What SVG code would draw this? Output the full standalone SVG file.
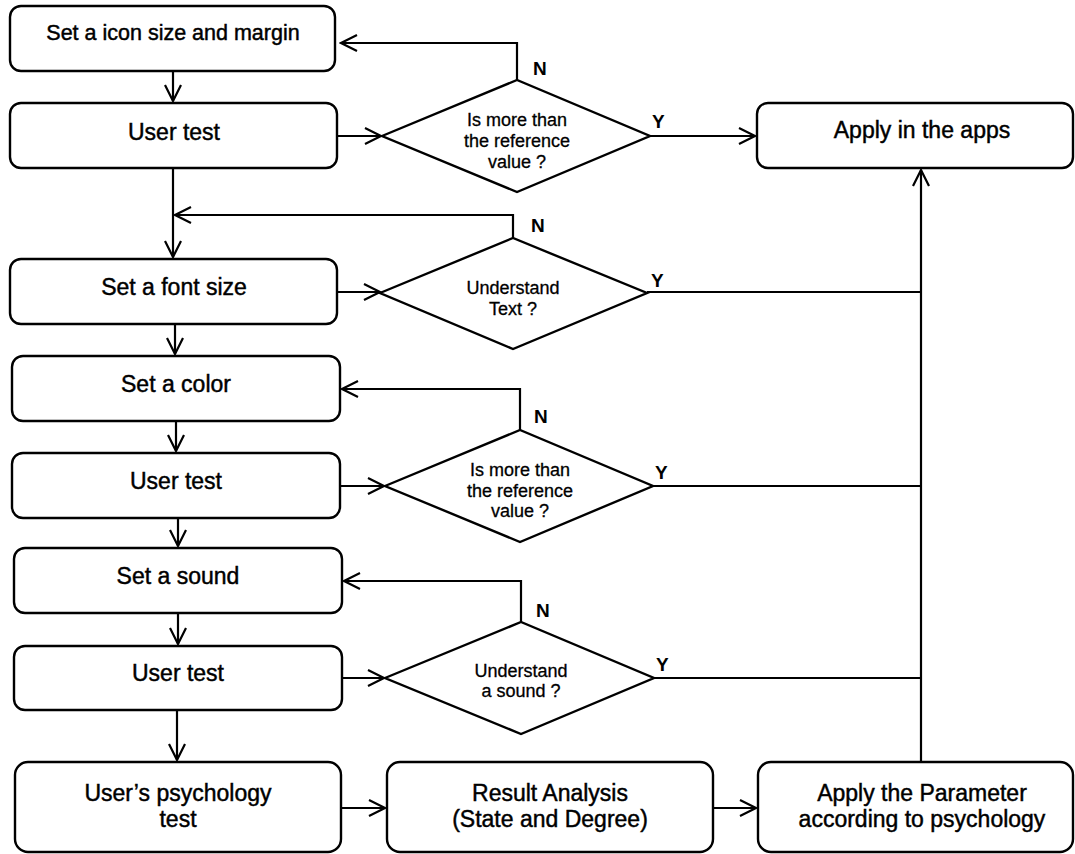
<svg xmlns="http://www.w3.org/2000/svg" width="1075" height="854" viewBox="0 0 1075 854">
<defs>
<marker id="arr" markerUnits="userSpaceOnUse" markerWidth="20" markerHeight="20" viewBox="0 0 20 20" refX="18" refY="10" orient="auto">
<path d="M2,2 L18,10 L2,18" fill="none" stroke="#000" stroke-width="2.2"/>
</marker>
<style>
.box{fill:#fff;stroke:#000;stroke-width:2.4}
.dia{fill:#fff;stroke:#000;stroke-width:2.4}
.t{font-family:"Liberation Sans",Arial,sans-serif;font-size:23px;fill:#000;stroke:#000;stroke-width:0.45;text-anchor:middle}
.d{font-family:"Liberation Sans",Arial,sans-serif;font-size:18px;fill:#000;stroke:#000;stroke-width:0.3;text-anchor:middle}
.l{font-family:"Liberation Sans",Arial,sans-serif;font-size:19px;font-weight:bold;fill:#000}
.c{fill:none;stroke:#000;stroke-width:2.2}
.ca{fill:none;stroke:#000;stroke-width:2.2;marker-end:url(#arr)}
</style>
</defs>
<g id="connectors">
<path class="ca" d="M173,71 V101"/>
<path class="ca" d="M337,136 H381"/>
<path class="ca" d="M650,136 H755"/>
<path class="ca" d="M517,80 V43 H341"/>
<path class="ca" d="M173,168 V257"/>
<path class="ca" d="M513,238 V215 H175"/>
<path class="ca" d="M337,292 H380"/>
<path class="c" d="M647,292 H921"/>
<path class="ca" d="M175,324 V354"/>
<path class="ca" d="M176,421 V451"/>
<path class="ca" d="M340,486 H384"/>
<path class="c" d="M653,486 H921"/>
<path class="ca" d="M520,430 V389 H342"/>
<path class="ca" d="M178,518 V546"/>
<path class="ca" d="M178,613 V644"/>
<path class="ca" d="M342,678 H384"/>
<path class="c" d="M654,678 H921"/>
<path class="ca" d="M521,622 V581 H344"/>
<path class="ca" d="M177,710 V760"/>
<path class="ca" d="M341,808 H385"/>
<path class="ca" d="M713,808 H756"/>
<path class="ca" d="M921,762 V170"/>
</g>
<g id="n-icon"><rect class="box" x="10" y="6" width="325" height="65" rx="11"/><text class="t" x="173" y="40" style="font-size:21.5px">Set a icon size and margin</text></g>
<g id="n-test1"><rect class="box" x="10" y="103" width="327" height="65" rx="11"/><text class="t" x="174" y="140">User test</text></g>
<g id="n-dec1"><polygon class="dia" points="382,136 517,80 650,136 517,192"/><text class="d" x="517" y="126">Is more than</text><text class="d" x="517" y="147">the reference</text><text class="d" x="517" y="168">value ?</text></g>
<g id="n-apply"><rect class="box" x="757" y="103" width="316" height="65" rx="11"/><text class="t" x="922" y="138">Apply in the apps</text></g>
<g id="n-font"><rect class="box" x="10" y="259" width="327" height="65" rx="11"/><text class="t" x="174" y="295">Set a font size</text></g>
<g id="n-dec2"><polygon class="dia" points="380,293 513,238 647,293 513,349"/><text class="d" x="513" y="294">Understand</text><text class="d" x="513" y="315">Text ?</text></g>
<g id="n-color"><rect class="box" x="12" y="356" width="328" height="65" rx="11"/><text class="t" x="176" y="392">Set a color</text></g>
<g id="n-test2"><rect class="box" x="12" y="453" width="328" height="65" rx="11"/><text class="t" x="176" y="489">User test</text></g>
<g id="n-dec3"><polygon class="dia" points="385,486 520,430 653,486 520,542"/><text class="d" x="520" y="476">Is more than</text><text class="d" x="520" y="497">the reference</text><text class="d" x="520" y="517">value ?</text></g>
<g id="n-sound"><rect class="box" x="14" y="548" width="328" height="65" rx="11"/><text class="t" x="178" y="584">Set a sound</text></g>
<g id="n-test3"><rect class="box" x="14" y="646" width="328" height="64" rx="11"/><text class="t" x="178" y="681">User test</text></g>
<g id="n-dec4"><polygon class="dia" points="385,678 521,622 654,678 521,734"/><text class="d" x="521" y="677">Understand</text><text class="d" x="521" y="697">a sound ?</text></g>
<g id="n-psych"><rect class="box" x="15" y="762" width="326" height="90" rx="13"/><text class="t" x="178" y="801">User’s psychology</text><text class="t" x="178" y="827">test</text></g>
<g id="n-result"><rect class="box" x="387" y="762" width="326" height="90" rx="13"/><text class="t" x="550" y="801">Result Analysis</text><text class="t" x="550" y="827">(State and Degree)</text></g>
<g id="n-param"><rect class="box" x="758" y="762" width="315" height="90" rx="13"/><text class="t" x="922" y="801">Apply the Parameter</text><text class="t" x="922" y="827">according to psychology</text></g>
<g id="labels">
<text class="l" x="533" y="75">N</text>
<text class="l" x="652" y="128">Y</text>
<text class="l" x="531" y="232">N</text>
<text class="l" x="651" y="287">Y</text>
<text class="l" x="534" y="423">N</text>
<text class="l" x="655" y="479">Y</text>
<text class="l" x="536" y="617">N</text>
<text class="l" x="656" y="671">Y</text>
</g>
</svg>
